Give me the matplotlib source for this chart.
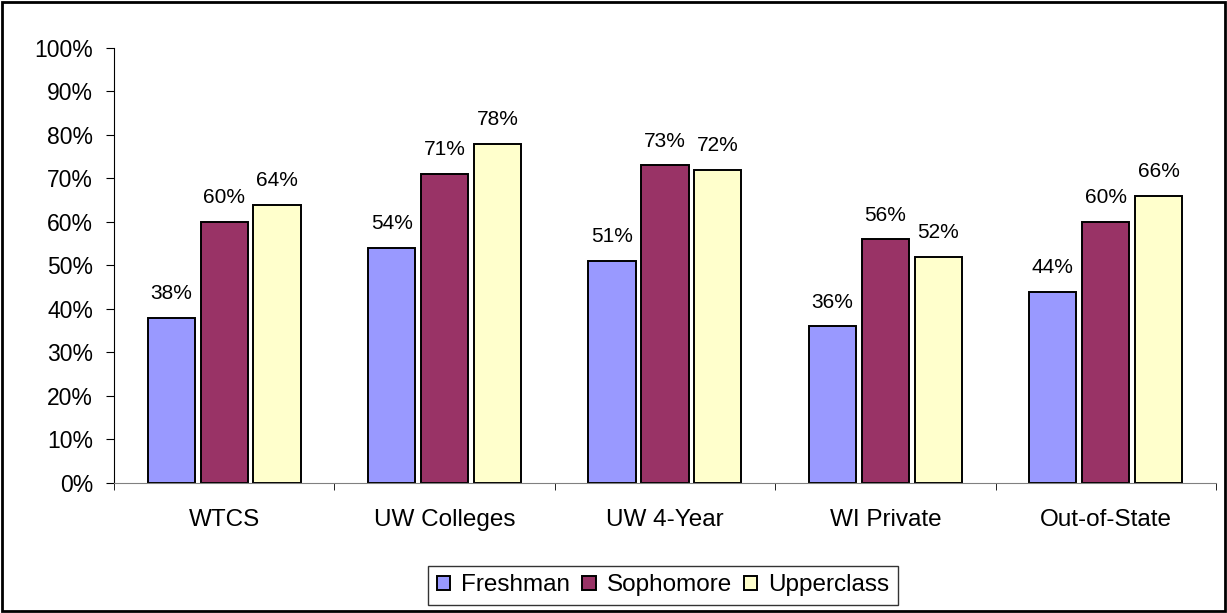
import numpy as np
import matplotlib.pyplot as plt
from matplotlib.patches import Rectangle

plt.rcParams["font.family"] = ["Liberation Sans", "DejaVu Sans"]

categories = ["WTCS", "UW Colleges", "UW 4-Year", "WI Private", "Out-of-State"]
series = ["Freshman", "Sophomore", "Upperclass"]
freshman = [38, 54, 51, 36, 44]
sophomore = [60, 71, 73, 56, 60]
upperclass = [64, 78, 72, 52, 66]
colors = ["#9999FF", "#993366", "#FFFFCC"]

fig = plt.figure(figsize=(12.27, 6.13), dpi=100)
ax = fig.add_axes([0.0929, 0.2121, 0.8981, 0.7096])

x = np.arange(len(categories))
w = 0.214
step = 0.24
for i, (name, vals) in enumerate(zip(series, [freshman, sophomore, upperclass])):
    pos = x + (i - 1) * step
    ax.bar(pos, vals, width=w, color=colors[i], edgecolor="black", linewidth=1.4, label=name)
    for px, v in zip(pos, vals):
        ax.annotate(f"{v}%", (px, v), xytext=(0, 13.5), textcoords="offset points",
                    ha="center", va="baseline", fontsize=15)

ax.set_xlim(-0.5, len(categories) - 0.5)
ax.set_ylim(0, 100)
ax.set_yticks(range(0, 101, 10))
ax.set_yticklabels([f"{t}%" for t in range(0, 101, 10)], fontsize=16.5)
ax.set_xticks(x)
ax.set_xticklabels(categories, fontsize=17.5)
ax.tick_params(axis="x", length=0, pad=19)
ax.set_xticks(np.arange(-0.5, len(categories)), minor=True)
ax.tick_params(axis="x", which="minor", length=5, color="black")
ax.tick_params(axis="y", length=6, pad=9)
for s in ["top", "right"]:
    ax.spines[s].set_visible(False)
ax.spines["bottom"].set_color("#808080")
ax.spines["left"].set_color("black")

leg = fig.legend(loc="center", bbox_to_anchor=(0.5404, 0.0449), ncol=3, fontsize=17.5,
                 frameon=True, fancybox=False, edgecolor="black", handlelength=0.55,
                 handleheight=0.55, handletextpad=0.45, columnspacing=0.5, borderpad=0.35,
                 borderaxespad=0)
leg.get_frame().set_linewidth(1.0)

fig.patches.append(Rectangle((0.002, 0.003), 0.996, 0.994, transform=fig.transFigure,
                             fill=False, edgecolor="black", linewidth=2))

fig.savefig("out.png", dpi=100)
